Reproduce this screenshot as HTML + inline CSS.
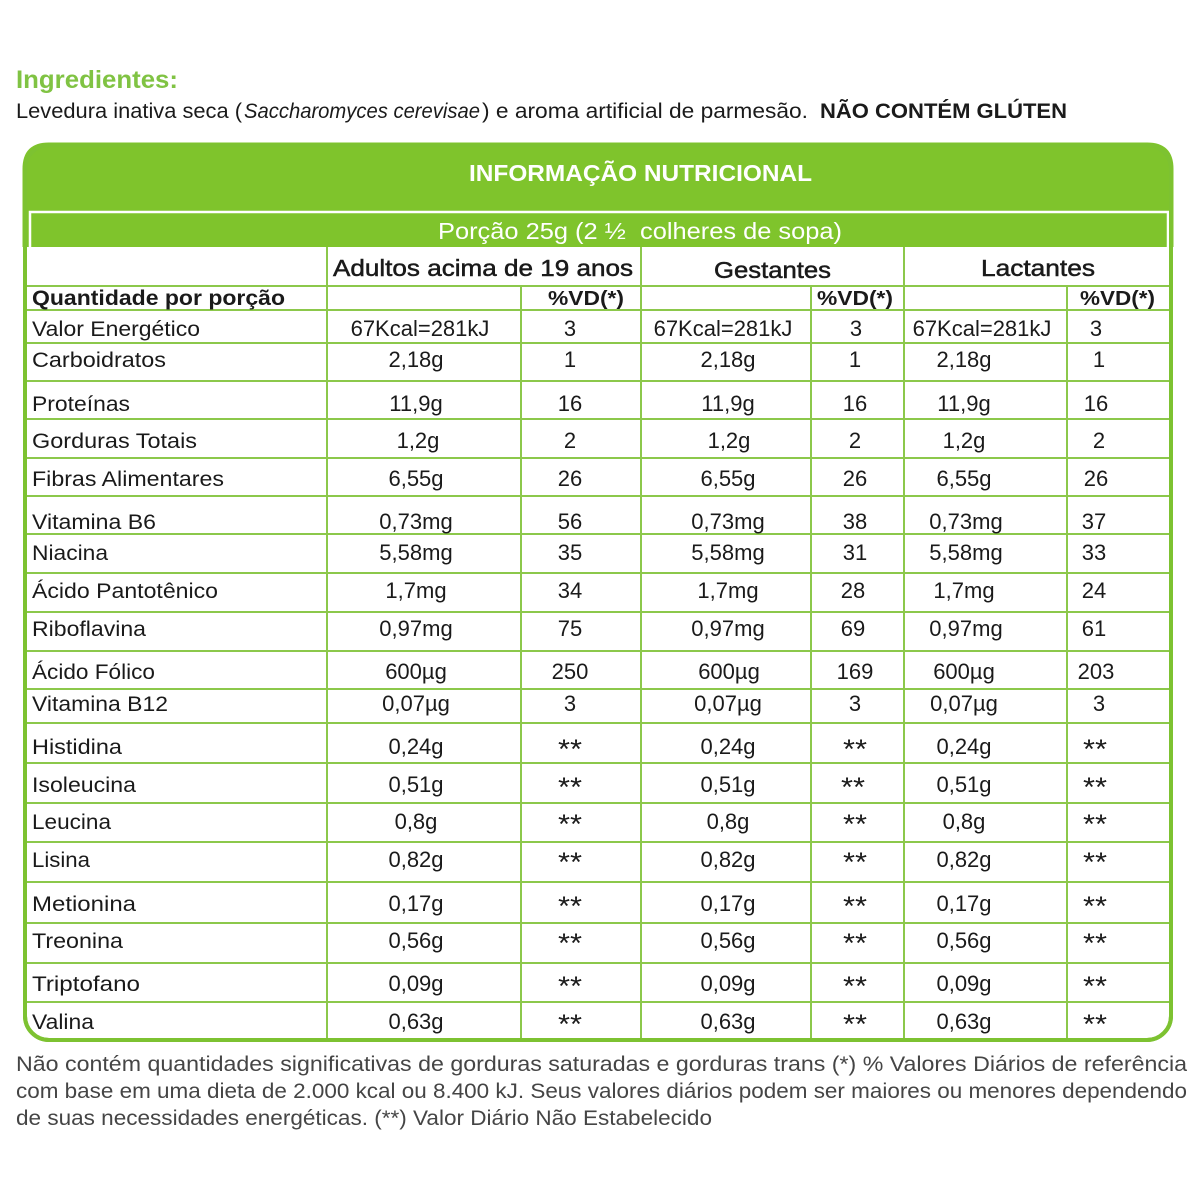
<!DOCTYPE html>
<html><head><meta charset="utf-8"><style>
html,body{margin:0;padding:0;background:#fff;}
svg{display:block;}
text{font-family:"Liberation Sans",Arial,sans-serif;}
.lb{font-size:21px;fill:#1a1a1a;}
.v{font-size:22px;fill:#1a1a1a;text-anchor:middle;}
.st{font-size:27px;fill:#1a1a1a;text-anchor:middle;}
</style></head><body>
<svg width="1200" height="1200" viewBox="0 0 1200 1200" xmlns="http://www.w3.org/2000/svg">
<rect width="1200" height="1200" fill="#fff"/>
<text x="16" y="88" font-size="25" font-weight="bold" fill="#80c343" textLength="162" lengthAdjust="spacingAndGlyphs">Ingredientes:</text>
<text x="16" y="118" font-size="21" fill="#1a1a1a" textLength="226" lengthAdjust="spacingAndGlyphs">Levedura inativa seca (</text>
<text x="244" y="118" font-size="21" font-style="italic" fill="#1a1a1a" textLength="236" lengthAdjust="spacingAndGlyphs">Saccharomyces cerevisae</text>
<text x="482" y="118" font-size="21" fill="#1a1a1a" textLength="326" lengthAdjust="spacingAndGlyphs">) e aroma artificial de parmesão.</text>
<text x="820" y="118" font-size="21" font-weight="bold" fill="#1a1a1a" textLength="247" lengthAdjust="spacingAndGlyphs">NÃO CONTÉM GLÚTEN</text>

<!-- card -->
<rect x="25" y="145" width="1146" height="895" rx="24" ry="24" fill="#fff" stroke="#7dc231" stroke-width="4"/>
<path d="M23,247 V169 Q23,143 49,143 H1147 Q1173,143 1173,169 V247 Z" fill="#7fc42c"/>
<polyline points="30,247 30,212 1168,212 1168,247" fill="none" stroke="#fff" stroke-width="2.5"/>
<text x="469" y="181" font-size="23" font-weight="bold" fill="#fff" textLength="343" lengthAdjust="spacingAndGlyphs">INFORMAÇÃO NUTRICIONAL</text>
<text x="438" y="239" font-size="23" fill="#fff" style="white-space:pre" textLength="404" lengthAdjust="spacingAndGlyphs">Porção 25g (2 ½  colheres de sopa)</text>

<!-- grid -->
<g stroke="#8cc84b" stroke-width="2">
<line x1="27" y1="286" x2="1169" y2="286"/>
<line x1="27" y1="310" x2="1169" y2="310"/>
<line x1="27" y1="343" x2="1169" y2="343"/>
<line x1="27" y1="381" x2="1169" y2="381"/>
<line x1="27" y1="419" x2="1169" y2="419"/>
<line x1="27" y1="458" x2="1169" y2="458"/>
<line x1="27" y1="496" x2="1169" y2="496"/>
<line x1="27" y1="534" x2="1169" y2="534"/>
<line x1="27" y1="573" x2="1169" y2="573"/>
<line x1="27" y1="612" x2="1169" y2="612"/>
<line x1="27" y1="651" x2="1169" y2="651"/>
<line x1="27" y1="689" x2="1169" y2="689"/>
<line x1="27" y1="723" x2="1169" y2="723"/>
<line x1="27" y1="763" x2="1169" y2="763"/>
<line x1="27" y1="803" x2="1169" y2="803"/>
<line x1="27" y1="842" x2="1169" y2="842"/>
<line x1="27" y1="882" x2="1169" y2="882"/>
<line x1="27" y1="923" x2="1169" y2="923"/>
<line x1="27" y1="963" x2="1169" y2="963"/>
<line x1="27" y1="1002" x2="1169" y2="1002"/>
<line x1="327" y1="247" x2="327" y2="1039"/>
<line x1="641" y1="247" x2="641" y2="1039"/>
<line x1="904" y1="247" x2="904" y2="1039"/>
<line x1="521" y1="286" x2="521" y2="1039"/>
<line x1="811" y1="286" x2="811" y2="1039"/>
<line x1="1067" y1="286" x2="1067" y2="1039"/>
</g>
<rect x="25" y="145" width="1146" height="895" rx="24" ry="24" fill="none" stroke="#7dc231" stroke-width="4"/>
<path d="M23,247 V169 Q23,143 49,143 H1147 Q1173,143 1173,169 V247" fill="none" stroke="#7fc42c" stroke-width="1"/>

<!-- headers -->
<text x="333" y="276" font-size="23" fill="#1a1a1a" stroke="#1a1a1a" stroke-width="0.5" textLength="300" lengthAdjust="spacingAndGlyphs">Adultos acima de 19 anos</text>
<text x="714" y="278" font-size="23" fill="#1a1a1a" stroke="#1a1a1a" stroke-width="0.5" textLength="117" lengthAdjust="spacingAndGlyphs">Gestantes</text>
<text x="981" y="276" font-size="23" fill="#1a1a1a" stroke="#1a1a1a" stroke-width="0.5" textLength="114" lengthAdjust="spacingAndGlyphs">Lactantes</text>
<text x="32" y="305" font-size="21" font-weight="bold" fill="#1a1a1a" textLength="253" lengthAdjust="spacingAndGlyphs">Quantidade por porção</text>
<text x="548" y="305" font-size="20" font-weight="bold" fill="#1a1a1a" textLength="76" lengthAdjust="spacingAndGlyphs">%VD(*)</text>
<text x="817" y="305" font-size="20" font-weight="bold" fill="#1a1a1a" textLength="76" lengthAdjust="spacingAndGlyphs">%VD(*)</text>
<text x="1080" y="305" font-size="20" font-weight="bold" fill="#1a1a1a" textLength="75" lengthAdjust="spacingAndGlyphs">%VD(*)</text>

<!-- rows -->
<text class="lb" x="32" y="336" textLength="168" lengthAdjust="spacingAndGlyphs">Valor Energético</text>
<text class="v" x="420" y="336">67Kcal=281kJ</text><text class="v" x="570" y="336">3</text>
<text class="v" x="723" y="336">67Kcal=281kJ</text><text class="v" x="856" y="336">3</text>
<text class="v" x="982" y="336">67Kcal=281kJ</text><text class="v" x="1096" y="336">3</text>

<text class="lb" x="32" y="367" textLength="134" lengthAdjust="spacingAndGlyphs">Carboidratos</text>
<text class="v" x="416" y="367">2,18g</text><text class="v" x="570" y="367">1</text>
<text class="v" x="728" y="367">2,18g</text><text class="v" x="855" y="367">1</text>
<text class="v" x="964" y="367">2,18g</text><text class="v" x="1099" y="367">1</text>

<text class="lb" x="32" y="411" textLength="98" lengthAdjust="spacingAndGlyphs">Proteínas</text>
<text class="v" x="416" y="411">11,9g</text><text class="v" x="570" y="411">16</text>
<text class="v" x="728" y="411">11,9g</text><text class="v" x="855" y="411">16</text>
<text class="v" x="964" y="411">11,9g</text><text class="v" x="1096" y="411">16</text>

<text class="lb" x="32" y="448" textLength="165" lengthAdjust="spacingAndGlyphs">Gorduras Totais</text>
<text class="v" x="418" y="448">1,2g</text><text class="v" x="570" y="448">2</text>
<text class="v" x="729" y="448">1,2g</text><text class="v" x="855" y="448">2</text>
<text class="v" x="964" y="448">1,2g</text><text class="v" x="1099" y="448">2</text>

<text class="lb" x="32" y="486" textLength="192" lengthAdjust="spacingAndGlyphs">Fibras Alimentares</text>
<text class="v" x="416" y="486">6,55g</text><text class="v" x="570" y="486">26</text>
<text class="v" x="728" y="486">6,55g</text><text class="v" x="855" y="486">26</text>
<text class="v" x="964" y="486">6,55g</text><text class="v" x="1096" y="486">26</text>

<text class="lb" x="32" y="529" textLength="124" lengthAdjust="spacingAndGlyphs">Vitamina B6</text>
<text class="v" x="416" y="529">0,73mg</text><text class="v" x="570" y="529">56</text>
<text class="v" x="728" y="529">0,73mg</text><text class="v" x="855" y="529">38</text>
<text class="v" x="966" y="529">0,73mg</text><text class="v" x="1094" y="529">37</text>

<text class="lb" x="32" y="560" textLength="76" lengthAdjust="spacingAndGlyphs">Niacina</text>
<text class="v" x="416" y="560">5,58mg</text><text class="v" x="570" y="560">35</text>
<text class="v" x="728" y="560">5,58mg</text><text class="v" x="855" y="560">31</text>
<text class="v" x="966" y="560">5,58mg</text><text class="v" x="1094" y="560">33</text>

<text class="lb" x="32" y="598" textLength="186" lengthAdjust="spacingAndGlyphs">Ácido Pantotênico</text>
<text class="v" x="416" y="598">1,7mg</text><text class="v" x="570" y="598">34</text>
<text class="v" x="728" y="598">1,7mg</text><text class="v" x="853" y="598">28</text>
<text class="v" x="964" y="598">1,7mg</text><text class="v" x="1094" y="598">24</text>

<text class="lb" x="32" y="636" textLength="114" lengthAdjust="spacingAndGlyphs">Riboflavina</text>
<text class="v" x="416" y="636">0,97mg</text><text class="v" x="570" y="636">75</text>
<text class="v" x="728" y="636">0,97mg</text><text class="v" x="853" y="636">69</text>
<text class="v" x="966" y="636">0,97mg</text><text class="v" x="1094" y="636">61</text>

<text class="lb" x="32" y="679" textLength="123" lengthAdjust="spacingAndGlyphs">Ácido Fólico</text>
<text class="v" x="416" y="679">600µg</text><text class="v" x="570" y="679">250</text>
<text class="v" x="729" y="679">600µg</text><text class="v" x="855" y="679">169</text>
<text class="v" x="964" y="679">600µg</text><text class="v" x="1096" y="679">203</text>

<text class="lb" x="32" y="711" textLength="136" lengthAdjust="spacingAndGlyphs">Vitamina B12</text>
<text class="v" x="416" y="711">0,07µg</text><text class="v" x="570" y="711">3</text>
<text class="v" x="728" y="711">0,07µg</text><text class="v" x="855" y="711">3</text>
<text class="v" x="964" y="711">0,07µg</text><text class="v" x="1099" y="711">3</text>

<text class="lb" x="32" y="754" textLength="90" lengthAdjust="spacingAndGlyphs">Histidina</text>
<text class="v" x="416" y="754">0,24g</text><text class="st" x="570" y="758" textLength="24" lengthAdjust="spacingAndGlyphs">**</text>
<text class="v" x="728" y="754">0,24g</text><text class="st" x="855" y="758" textLength="24" lengthAdjust="spacingAndGlyphs">**</text>
<text class="v" x="964" y="754">0,24g</text><text class="st" x="1095" y="758" textLength="24" lengthAdjust="spacingAndGlyphs">**</text>

<text class="lb" x="32" y="792" textLength="104" lengthAdjust="spacingAndGlyphs">Isoleucina</text>
<text class="v" x="416" y="792">0,51g</text><text class="st" x="570" y="796" textLength="24" lengthAdjust="spacingAndGlyphs">**</text>
<text class="v" x="728" y="792">0,51g</text><text class="st" x="853" y="796" textLength="24" lengthAdjust="spacingAndGlyphs">**</text>
<text class="v" x="964" y="792">0,51g</text><text class="st" x="1095" y="796" textLength="24" lengthAdjust="spacingAndGlyphs">**</text>

<text class="lb" x="32" y="829" textLength="79" lengthAdjust="spacingAndGlyphs">Leucina</text>
<text class="v" x="416" y="829">0,8g</text><text class="st" x="570" y="833" textLength="24" lengthAdjust="spacingAndGlyphs">**</text>
<text class="v" x="728" y="829">0,8g</text><text class="st" x="855" y="833" textLength="24" lengthAdjust="spacingAndGlyphs">**</text>
<text class="v" x="964" y="829">0,8g</text><text class="st" x="1095" y="833" textLength="24" lengthAdjust="spacingAndGlyphs">**</text>

<text class="lb" x="32" y="867" textLength="58" lengthAdjust="spacingAndGlyphs">Lisina</text>
<text class="v" x="416" y="867">0,82g</text><text class="st" x="570" y="871" textLength="24" lengthAdjust="spacingAndGlyphs">**</text>
<text class="v" x="728" y="867">0,82g</text><text class="st" x="855" y="871" textLength="24" lengthAdjust="spacingAndGlyphs">**</text>
<text class="v" x="964" y="867">0,82g</text><text class="st" x="1095" y="871" textLength="24" lengthAdjust="spacingAndGlyphs">**</text>

<text class="lb" x="32" y="911" textLength="104" lengthAdjust="spacingAndGlyphs">Metionina</text>
<text class="v" x="416" y="911">0,17g</text><text class="st" x="570" y="915" textLength="24" lengthAdjust="spacingAndGlyphs">**</text>
<text class="v" x="728" y="911">0,17g</text><text class="st" x="855" y="915" textLength="24" lengthAdjust="spacingAndGlyphs">**</text>
<text class="v" x="964" y="911">0,17g</text><text class="st" x="1095" y="915" textLength="24" lengthAdjust="spacingAndGlyphs">**</text>

<text class="lb" x="32" y="948" textLength="91" lengthAdjust="spacingAndGlyphs">Treonina</text>
<text class="v" x="416" y="948">0,56g</text><text class="st" x="570" y="952" textLength="24" lengthAdjust="spacingAndGlyphs">**</text>
<text class="v" x="728" y="948">0,56g</text><text class="st" x="855" y="952" textLength="24" lengthAdjust="spacingAndGlyphs">**</text>
<text class="v" x="964" y="948">0,56g</text><text class="st" x="1095" y="952" textLength="24" lengthAdjust="spacingAndGlyphs">**</text>

<text class="lb" x="32" y="991" textLength="108" lengthAdjust="spacingAndGlyphs">Triptofano</text>
<text class="v" x="416" y="991">0,09g</text><text class="st" x="570" y="995" textLength="24" lengthAdjust="spacingAndGlyphs">**</text>
<text class="v" x="728" y="991">0,09g</text><text class="st" x="855" y="995" textLength="24" lengthAdjust="spacingAndGlyphs">**</text>
<text class="v" x="964" y="991">0,09g</text><text class="st" x="1095" y="995" textLength="24" lengthAdjust="spacingAndGlyphs">**</text>

<text class="lb" x="32" y="1029" textLength="62" lengthAdjust="spacingAndGlyphs">Valina</text>
<text class="v" x="416" y="1029">0,63g</text><text class="st" x="570" y="1033" textLength="24" lengthAdjust="spacingAndGlyphs">**</text>
<text class="v" x="728" y="1029">0,63g</text><text class="st" x="855" y="1033" textLength="24" lengthAdjust="spacingAndGlyphs">**</text>
<text class="v" x="964" y="1029">0,63g</text><text class="st" x="1095" y="1033" textLength="24" lengthAdjust="spacingAndGlyphs">**</text>

<!-- footer -->
<text x="16" y="1071" font-size="21" fill="#454545" textLength="1171" lengthAdjust="spacingAndGlyphs">Não contém quantidades significativas de gorduras saturadas e gorduras trans (*) % Valores Diários de referência</text>
<text x="16" y="1098" font-size="21" fill="#454545" textLength="1171" lengthAdjust="spacingAndGlyphs">com base em uma dieta de 2.000 kcal ou 8.400 kJ. Seus valores diários podem ser maiores ou menores dependendo</text>
<text x="16" y="1125" font-size="21" fill="#454545" textLength="696" lengthAdjust="spacingAndGlyphs">de suas necessidades energéticas. (**) Valor Diário Não Estabelecido</text>
</svg>
</body></html>
